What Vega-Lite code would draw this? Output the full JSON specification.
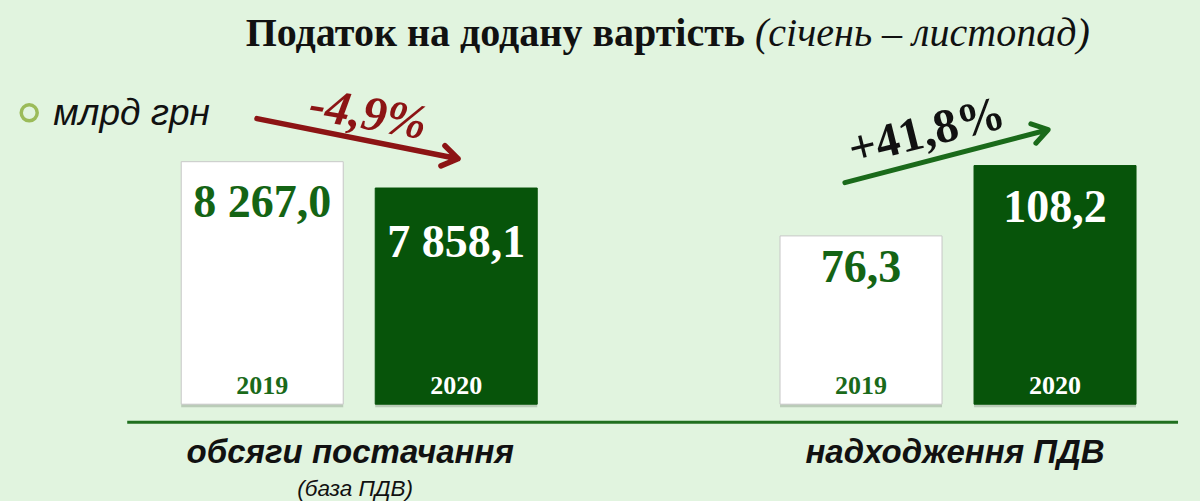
{
  "$schema": "https://vega.github.io/schema/vega-lite/v6.json",
  "width": 1200,
  "height": 501,
  "autosize": {"type": "fit", "contains": "padding"},
  "padding": 0,
  "background": "#e1f4df",
  "config": {
    "view": {"stroke": null},
    "axis": {"disable": true},
    "locale": {"number": {"decimal": ",", "thousands": " ", "grouping": [3], "currency": ["", ""]}}
  },
  "data": {
    "values": [
      {"group": "обсяги постачання", "year": "2019", "value": 8267.0},
      {"group": "обсяги постачання", "year": "2020", "value": 7858.1},
      {"group": "надходження ПДВ", "year": "2019", "value": 76.3},
      {"group": "надходження ПДВ", "year": "2020", "value": 108.2}
    ]
  },
  "layer": [
    {
      "layer": [
        {
          "transform": [{"filter": "datum.group === 'обсяги постачання'"}],
          "mark": {"type": "bar", "color": "#5f6f5f", "opacity": 0.3, "yOffset": 3, "y2Offset": 3},
          "encoding": {
            "x": {"field": "group", "type": "nominal", "scale": {"domain": ["обсяги постачання", "надходження ПДВ"], "paddingInner": 0.352, "paddingOuter": 0.178, "align": 0.775}, "axis": null},
            "xOffset": {"field": "year", "type": "nominal", "scale": {"domain": ["2019", "2020"], "paddingInner": 0.165, "paddingOuter": 0.0825}},
            "y": {"field": "value", "type": "quantitative", "scale": {"domain": [3011.6, 10779], "nice": false, "zero": false}, "axis": null},
            "y2": {"datum": 4500}
          }
        },
        {
          "transform": [{"filter": "datum.group === 'обсяги постачання'"}],
          "mark": {"type": "bar", "strokeWidth": 1},
          "encoding": {
            "x": {"field": "group", "type": "nominal"},
            "xOffset": {"field": "year", "type": "nominal"},
            "y": {"field": "value", "type": "quantitative"},
            "y2": {"datum": 4500},
            "fill": {"condition": {"test": "datum.year === '2019'", "value": "#ffffff"}, "value": "#07540a"},
            "stroke": {"condition": {"test": "datum.year === '2019'", "value": "#c8c8c8"}, "value": "#07540a"}
          }
        },
        {
          "transform": [{"filter": "datum.group === 'обсяги постачання' && datum.year === '2019'"}],
          "mark": {"type": "text", "font": "Liberation Serif", "fontWeight": "bold", "fontSize": 46, "baseline": "alphabetic", "dy": 55, "color": "#146414"},
          "encoding": {
            "x": {"field": "group", "type": "nominal"},
            "xOffset": {"field": "year", "type": "nominal"},
            "y": {"field": "value", "type": "quantitative"},
            "text": {"field": "value", "type": "quantitative", "format": ",.1f"}
          }
        },
        {
          "transform": [{"filter": "datum.group === 'обсяги постачання' && datum.year === '2020'"}],
          "mark": {"type": "text", "font": "Liberation Serif", "fontWeight": "bold", "fontSize": 46, "baseline": "alphabetic", "dy": 69, "color": "#ffffff"},
          "encoding": {
            "x": {"field": "group", "type": "nominal"},
            "xOffset": {"field": "year", "type": "nominal"},
            "y": {"field": "value", "type": "quantitative"},
            "text": {"field": "value", "type": "quantitative", "format": ",.1f"}
          }
        },
        {
          "transform": [{"filter": "datum.group === 'обсяги постачання'"}],
          "mark": {"type": "text", "font": "Liberation Serif", "fontWeight": "bold", "fontSize": 26, "baseline": "alphabetic", "dy": -10},
          "encoding": {
            "x": {"field": "group", "type": "nominal"},
            "xOffset": {"field": "year", "type": "nominal"},
            "y": {"datum": 4500},
            "text": {"field": "year", "type": "nominal"},
            "color": {"condition": {"test": "datum.year === '2020'", "value": "#ffffff"}, "value": "#1a6a1a"}
          }
        },
        {
          "data": {"values": [{}]},
          "mark": {"type": "text", "text": "Податок на додану вартість", "font": "Liberation Serif", "fontWeight": "bold", "fontSize": 40, "align": "right", "baseline": "alphabetic", "dx": -213, "color": "#111111"},
          "encoding": {"x": {"datum": "надходження ПДВ"}, "y": {"datum": 10065.8}}
        },
        {
          "data": {"values": [{}]},
          "mark": {"type": "text", "text": "(січень – листопад)", "font": "Liberation Serif", "fontStyle": "italic", "fontSize": 40, "align": "left", "baseline": "alphabetic", "dx": -203, "color": "#111111"},
          "encoding": {"x": {"datum": "надходження ПДВ"}, "y": {"datum": 10065.8}}
        },
        {
          "data": {"values": [{}]},
          "mark": {"type": "point", "shape": "circle", "size": 256, "filled": false, "stroke": "#9bbb59", "strokeWidth": 3.5, "opacity": 1, "xOffset": -330},
          "encoding": {"x": {"datum": "обсяги постачання"}, "y": {"datum": 9027}}
        },
        {
          "data": {"values": [{}]},
          "mark": {"type": "text", "text": "млрд грн", "font": "Liberation Sans", "fontStyle": "italic", "fontSize": 37, "align": "left", "baseline": "alphabetic", "dx": -306, "color": "#111111"},
          "encoding": {"x": {"datum": "обсяги постачання"}, "y": {"datum": 8841}}
        },
        {
          "data": {"values": [{}]},
          "mark": {"type": "point", "shape": "M-1,0L1,0M0.85,-0.1L1,0L0.85,0.1", "size": 42025, "angle": 11.3, "filled": false, "stroke": "#8c1414", "strokeWidth": 5.5, "strokeCap": "round", "strokeJoin": "round", "opacity": 1, "xOffset": -1.7},
          "encoding": {"x": {"datum": "обсяги постачання"}, "y": {"datum": 8624}}
        },
        {
          "data": {"values": [{}]},
          "mark": {"type": "text", "text": "-4,9%", "font": "Liberation Serif", "fontWeight": "bold", "fontStyle": "italic", "fontSize": 49, "align": "center", "baseline": "middle", "angle": 10, "dx": 9, "color": "#8c1414"},
          "encoding": {"x": {"datum": "обсяги постачання"}, "y": {"datum": 9027}}
        },
        {
          "data": {"values": [{}]},
          "mark": {"type": "rule", "color": "#1f6f1f", "strokeWidth": 3, "xOffset": -232, "x2Offset": 220},
          "encoding": {"x": {"datum": "обсяги постачання"}, "x2": {"datum": "надходження ПДВ"}, "y": {"datum": 4220.8}}
        },
        {
          "data": {"values": [{}]},
          "mark": {"type": "text", "text": "обсяги постачання", "font": "Liberation Sans", "fontWeight": "bold", "fontStyle": "italic", "fontSize": 33, "align": "center", "baseline": "alphabetic", "dx": -9, "color": "#111111"},
          "encoding": {"x": {"datum": "обсяги постачання"}, "y": {"datum": 3585}}
        },
        {
          "data": {"values": [{}]},
          "mark": {"type": "text", "text": "(база ПДВ)", "font": "Liberation Sans", "fontStyle": "italic", "fontSize": 22.5, "align": "center", "baseline": "alphabetic", "dx": -4, "color": "#111111"},
          "encoding": {"x": {"datum": "обсяги постачання"}, "y": {"datum": 3073}}
        }
      ]
    },
    {
      "layer": [
        {
          "transform": [{"filter": "datum.group === 'надходження ПДВ'"}],
          "mark": {"type": "bar", "color": "#5f6f5f", "opacity": 0.3, "yOffset": 3, "y2Offset": 3},
          "encoding": {
            "x": {"field": "group", "type": "nominal"},
            "xOffset": {"field": "year", "type": "nominal"},
            "y": {"field": "value", "type": "quantitative", "scale": {"domain": [-43.44, 183.26], "nice": false}, "axis": null},
            "y2": {"datum": 0}
          }
        },
        {
          "transform": [{"filter": "datum.group === 'надходження ПДВ'"}],
          "mark": {"type": "bar", "strokeWidth": 1},
          "encoding": {
            "x": {"field": "group", "type": "nominal"},
            "xOffset": {"field": "year", "type": "nominal"},
            "y": {"field": "value", "type": "quantitative"},
            "y2": {"datum": 0},
            "fill": {"condition": {"test": "datum.year === '2019'", "value": "#ffffff"}, "value": "#07540a"},
            "stroke": {"condition": {"test": "datum.year === '2019'", "value": "#c8c8c8"}, "value": "#07540a"}
          }
        },
        {
          "transform": [{"filter": "datum.group === 'надходження ПДВ' && datum.year === '2019'"}],
          "mark": {"type": "text", "font": "Liberation Serif", "fontWeight": "bold", "fontSize": 46, "baseline": "alphabetic", "dy": 46, "color": "#146414"},
          "encoding": {
            "x": {"field": "group", "type": "nominal"},
            "xOffset": {"field": "year", "type": "nominal"},
            "y": {"field": "value", "type": "quantitative"},
            "text": {"field": "value", "type": "quantitative", "format": ",.1f"}
          }
        },
        {
          "transform": [{"filter": "datum.group === 'надходження ПДВ' && datum.year === '2020'"}],
          "mark": {"type": "text", "font": "Liberation Serif", "fontWeight": "bold", "fontSize": 46, "baseline": "alphabetic", "dy": 56, "color": "#ffffff"},
          "encoding": {
            "x": {"field": "group", "type": "nominal"},
            "xOffset": {"field": "year", "type": "nominal"},
            "y": {"field": "value", "type": "quantitative"},
            "text": {"field": "value", "type": "quantitative", "format": ",.1f"}
          }
        },
        {
          "transform": [{"filter": "datum.group === 'надходження ПДВ'"}],
          "mark": {"type": "text", "font": "Liberation Serif", "fontWeight": "bold", "fontSize": 26, "baseline": "alphabetic", "dy": -10},
          "encoding": {
            "x": {"field": "group", "type": "nominal"},
            "xOffset": {"field": "year", "type": "nominal"},
            "y": {"datum": 0},
            "text": {"field": "year", "type": "nominal"},
            "color": {"condition": {"test": "datum.year === '2020'", "value": "#ffffff"}, "value": "#1a6a1a"}
          }
        },
        {
          "data": {"values": [{}]},
          "mark": {"type": "point", "shape": "M-1,0L1,0M0.855,-0.095L1,0L0.855,0.095", "size": 44100, "angle": -14.6, "filled": false, "stroke": "#1a6a1a", "strokeWidth": 5, "strokeCap": "round", "strokeJoin": "round", "opacity": 1, "xOffset": -11.5},
          "encoding": {"x": {"datum": "надходження ПДВ"}, "y": {"datum": 112.44}}
        },
        {
          "data": {"values": [{}]},
          "mark": {"type": "text", "text": "+41,8%", "font": "Liberation Serif", "fontWeight": "bold", "fontSize": 48, "align": "center", "baseline": "middle", "angle": -14, "dx": -32, "color": "#111111"},
          "encoding": {"x": {"datum": "надходження ПДВ"}, "y": {"datum": 126.7}}
        },
        {
          "data": {"values": [{}]},
          "mark": {"type": "text", "text": "надходження ПДВ", "font": "Liberation Sans", "fontWeight": "bold", "fontStyle": "italic", "fontSize": 33, "align": "center", "baseline": "alphabetic", "dx": -3, "color": "#111111"},
          "encoding": {"x": {"datum": "надходження ПДВ"}, "y": {"datum": -26.7}}
        }
      ]
    }
  ],
  "resolve": {"scale": {"y": "independent"}}
}
